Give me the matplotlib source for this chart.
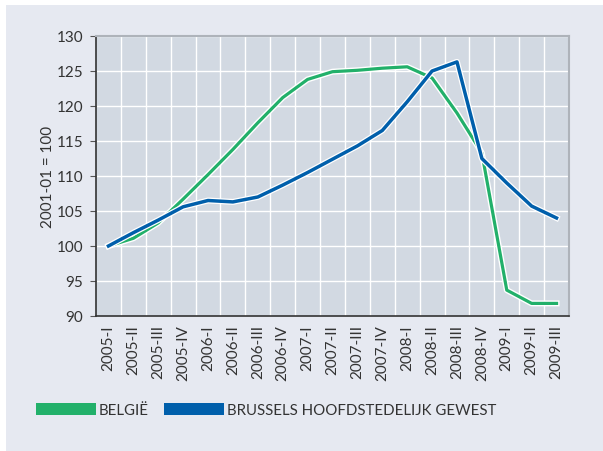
import matplotlib.pyplot as plt
import matplotlib.patheffects as pe
from matplotlib.patches import Patch, Rectangle

plt.rcParams['font.family'] = ['Lato', 'DejaVu Sans']

quarters = ["2005-I", "2005-II", "2005-III", "2005-IV",
            "2006-I", "2006-II", "2006-III", "2006-IV",
            "2007-I", "2007-II", "2007-III", "2007-IV",
            "2008-I", "2008-II", "2008-III", "2008-IV",
            "2009-I", "2009-II", "2009-III"]
belgie = [100.0, 101.1, 103.3, 106.7, 110.2, 113.8, 117.6, 121.2, 123.8, 124.9,
          125.1, 125.4, 125.6, 124.0, 119.0, 113.3, 93.7, 91.8, 91.8]
brussel = [100.0, 101.9, 103.7, 105.6, 106.5, 106.3, 107.0, 108.7, 110.5, 112.4,
           114.3, 116.5, 120.6, 125.0, 126.3, 112.5, 109.0, 105.7, 104.0]
yticks = [90, 95, 100, 105, 110, 115, 120, 125, 130]

GREEN = "#22b06a"
BLUE = "#005fab"
PANEL = "#e6e9f1"
AXBG = "#d2d9e2"
TXT = "#333333"

fig = plt.figure(figsize=(6.03, 4.52), dpi=100)
fig.patch.set_facecolor("white")
fig.patches.append(Rectangle((6 / 603, 0), 1, 1 - 6 / 452, transform=fig.transFigure,
                             facecolor=PANEL, edgecolor="none", zorder=-10))

ax = fig.add_axes([96 / 603, 1 - 317 / 452, 473 / 603, 280 / 452])
ax.set_facecolor(AXBG)

x = range(len(quarters))
outline = [pe.Stroke(linewidth=4.3, foreground="white"), pe.Normal()]
ax.plot(x, belgie, color=GREEN, lw=2.3, path_effects=outline, zorder=3)
ax.plot(x, brussel, color=BLUE, lw=2.5, path_effects=outline, zorder=4)

ax.set_xlim(-0.5, len(quarters) - 0.5)
ax.set_ylim(90, 130)
ax.set_yticks(yticks)
ax.set_yticklabels([str(v) for v in yticks], fontsize=11, color=TXT)
ax.set_xticks(list(x))
ax.set_xticklabels(quarters, rotation=90, fontsize=11, color=TXT)
ax.tick_params(axis="x", length=0, pad=6)
ax.tick_params(axis="y", length=4, width=0.8, color="#555555", pad=5)

ax.set_xticks([i + 0.5 for i in range(len(quarters) - 1)], minor=True)
ax.grid(True, which="minor", axis="x", color="white", lw=1)
ax.grid(True, which="major", axis="y", color="white", lw=1)
ax.tick_params(axis="x", which="minor", length=0)
ax.set_axisbelow(True)

for s in ["top", "right"]:
    ax.spines[s].set_color("#aeb3ba")
    ax.spines[s].set_linewidth(1.5)
for s in ["left", "bottom"]:
    ax.spines[s].set_color("#333333")
    ax.spines[s].set_linewidth(1.2)

ax.set_ylabel("2001-01 = 100", fontsize=11, color=TXT, labelpad=1)

handles = [Patch(facecolor=GREEN, label="BELGIË"),
           Patch(facecolor=BLUE, label="BRUSSELS HOOFDSTEDELIJK GEWEST")]
fig.legend(handles=handles, loc="center left", bbox_to_anchor=(30 / 603, 1 - 411 / 452),
           ncol=2, frameon=False, fontsize=10.8, handlelength=4.0, handleheight=0.85,
           handletextpad=0.2, columnspacing=1.0, labelcolor=TXT, borderaxespad=0)

fig.savefig("out.png", dpi=100, facecolor=fig.get_facecolor())
